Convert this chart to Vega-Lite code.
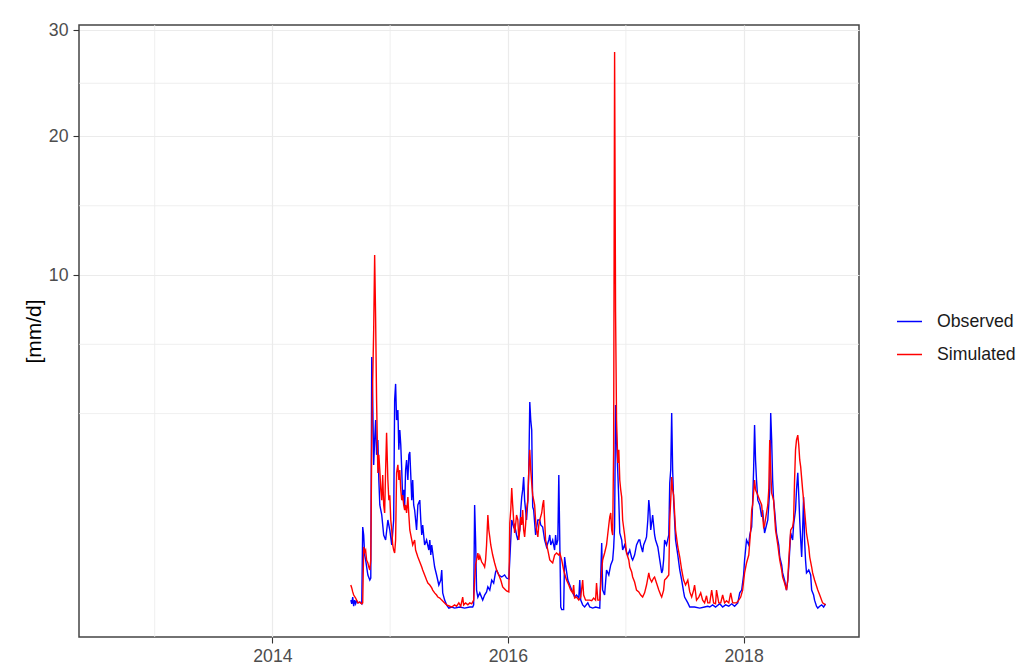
{
  "$schema": "https://vega.github.io/schema/vega-lite/v6.json",
  "autosize": {"type": "none"},
  "padding": {"left": 79, "top": 25, "right": 162, "bottom": 27},
  "width": 780,
  "height": 612,
  "background": "white",
  "config": {
    "font": "Liberation Sans",
    "view": {"stroke": "#444444", "strokeWidth": 1.5},
    "axis": {
      "domain": false,
      "grid": true,
      "gridColor": "#ebebeb",
      "gridWidth": 1.2,
      "tickColor": "#333333",
      "tickWidth": 1.1,
      "tickSize": 6,
      "labelColor": "#4d4d4d",
      "labelFont": "Liberation Sans",
      "labelFontSize": 17.7,
      "titleFont": "Liberation Sans",
      "titleFontWeight": "normal",
      "titleColor": "#000000"
    },
    "legend": {
      "orient": "none",
      "legendX": 817,
      "legendY": 283,
      "padding": 0,
      "labelFont": "Liberation Sans",
      "labelFontSize": 17.7,
      "labelColor": "#1a1a1a",
      "labelOffset": 14,
      "symbolType": "stroke",
      "symbolSize": 625,
      "symbolStrokeWidth": 1.5,
      "rowPadding": 10
    }
  },
  "datasets": {
    "minorx": [{"date": "2013-01-01"}, {"date": "2015-01-01"}, {"date": "2017-01-01"}],
    "minory": [{"value": 3.4318}, {"value": 6.287}, {"value": 14.571}, {"value": 24.747}],
    "flow": [
      {"date":"2014-09-01","series":"Observed","value":0.008},
      {"date":"2014-09-04","series":"Observed","value":0.003},
      {"date":"2014-09-07","series":"Observed","value":0.014},
      {"date":"2014-09-10","series":"Observed","value":0.001},
      {"date":"2014-09-13","series":"Observed","value":0.008},
      {"date":"2014-09-16","series":"Observed","value":0.003},
      {"date":"2014-09-19","series":"Observed","value":0.007},
      {"date":"2014-09-23","series":"Observed","value":0.004},
      {"date":"2014-09-29","series":"Observed","value":0.005},
      {"date":"2014-10-05","series":"Observed","value":0.003},
      {"date":"2014-10-08","series":"Observed","value":0.61},
      {"date":"2014-10-11","series":"Observed","value":0.497},
      {"date":"2014-10-14","series":"Observed","value":0.266},
      {"date":"2014-10-17","series":"Observed","value":0.22},
      {"date":"2014-10-24","series":"Observed","value":0.107},
      {"date":"2014-10-30","series":"Observed","value":0.078},
      {"date":"2014-11-02","series":"Observed","value":0.089},
      {"date":"2014-11-05","series":"Observed","value":5.7},
      {"date":"2014-11-08","series":"Observed","value":3.92},
      {"date":"2014-11-11","series":"Observed","value":1.87},
      {"date":"2014-11-14","series":"Observed","value":2.57},
      {"date":"2014-11-17","series":"Observed","value":3.21},
      {"date":"2014-11-20","series":"Observed","value":2.14},
      {"date":"2014-11-24","series":"Observed","value":2.57},
      {"date":"2014-11-27","series":"Observed","value":1.5},
      {"date":"2014-11-30","series":"Observed","value":0.978},
      {"date":"2014-12-06","series":"Observed","value":0.8},
      {"date":"2014-12-12","series":"Observed","value":0.497},
      {"date":"2014-12-18","series":"Observed","value":0.433},
      {"date":"2014-12-25","series":"Observed","value":0.717},
      {"date":"2014-12-31","series":"Observed","value":0.566},
      {"date":"2015-01-06","series":"Observed","value":0.373},
      {"date":"2015-01-12","series":"Observed","value":0.717},
      {"date":"2015-01-15","series":"Observed","value":3.92},
      {"date":"2015-01-18","series":"Observed","value":4.55},
      {"date":"2015-01-21","series":"Observed","value":3.21},
      {"date":"2015-01-25","series":"Observed","value":3.56},
      {"date":"2015-01-28","series":"Observed","value":2.28},
      {"date":"2015-01-31","series":"Observed","value":2.88},
      {"date":"2015-02-03","series":"Observed","value":2.42},
      {"date":"2015-02-06","series":"Observed","value":1.74},
      {"date":"2015-02-09","series":"Observed","value":1.07},
      {"date":"2015-02-12","series":"Observed","value":1.28},
      {"date":"2015-02-15","series":"Observed","value":0.941},
      {"date":"2015-02-18","series":"Observed","value":1.74},
      {"date":"2015-02-21","series":"Observed","value":2.0},
      {"date":"2015-02-25","series":"Observed","value":1.5},
      {"date":"2015-02-28","series":"Observed","value":2.14},
      {"date":"2015-03-03","series":"Observed","value":2.22},
      {"date":"2015-03-06","series":"Observed","value":1.62},
      {"date":"2015-03-09","series":"Observed","value":1.07},
      {"date":"2015-03-12","series":"Observed","value":1.5},
      {"date":"2015-03-15","series":"Observed","value":0.978},
      {"date":"2015-03-18","series":"Observed","value":0.886},
      {"date":"2015-03-24","series":"Observed","value":0.566},
      {"date":"2015-03-28","series":"Observed","value":0.978},
      {"date":"2015-04-03","series":"Observed","value":1.07},
      {"date":"2015-04-06","series":"Observed","value":0.717},
      {"date":"2015-04-09","series":"Observed","value":0.497},
      {"date":"2015-04-12","series":"Observed","value":0.639},
      {"date":"2015-04-18","series":"Observed","value":0.373},
      {"date":"2015-04-24","series":"Observed","value":0.433},
      {"date":"2015-05-01","series":"Observed","value":0.317},
      {"date":"2015-05-04","series":"Observed","value":0.433},
      {"date":"2015-05-07","series":"Observed","value":0.266},
      {"date":"2015-05-10","series":"Observed","value":0.373},
      {"date":"2015-05-16","series":"Observed","value":0.22},
      {"date":"2015-05-19","series":"Observed","value":0.162},
      {"date":"2015-05-25","series":"Observed","value":0.107},
      {"date":"2015-06-01","series":"Observed","value":0.054},
      {"date":"2015-06-07","series":"Observed","value":0.078},
      {"date":"2015-06-10","series":"Observed","value":0.14},
      {"date":"2015-06-13","series":"Observed","value":0.025},
      {"date":"2015-06-19","series":"Observed","value":0.008},
      {"date":"2015-06-25","series":"Observed","value":0.002},
      {"date":"2015-07-02","series":"Observed","value":0.0002},
      {"date":"2015-07-11","series":"Observed","value":0.0006},
      {"date":"2015-07-20","series":"Observed","value":0.0002},
      {"date":"2015-08-05","series":"Observed","value":0.0006},
      {"date":"2015-08-20","series":"Observed","value":0.0002},
      {"date":"2015-09-05","series":"Observed","value":0.0006},
      {"date":"2015-09-14","series":"Observed","value":0.0006},
      {"date":"2015-09-17","series":"Observed","value":0.002},
      {"date":"2015-09-20","series":"Observed","value":0.978},
      {"date":"2015-09-23","series":"Observed","value":0.433},
      {"date":"2015-09-26","series":"Observed","value":0.034},
      {"date":"2015-09-30","series":"Observed","value":0.014},
      {"date":"2015-10-06","series":"Observed","value":0.025},
      {"date":"2015-10-15","series":"Observed","value":0.008},
      {"date":"2015-10-21","series":"Observed","value":0.019},
      {"date":"2015-10-27","series":"Observed","value":0.028},
      {"date":"2015-10-31","series":"Observed","value":0.046},
      {"date":"2015-11-06","series":"Observed","value":0.034},
      {"date":"2015-11-12","series":"Observed","value":0.078},
      {"date":"2015-11-18","series":"Observed","value":0.063},
      {"date":"2015-11-24","series":"Observed","value":0.126},
      {"date":"2015-11-27","series":"Observed","value":0.14},
      {"date":"2015-12-04","series":"Observed","value":0.107},
      {"date":"2015-12-13","series":"Observed","value":0.095},
      {"date":"2015-12-22","series":"Observed","value":0.107},
      {"date":"2015-12-28","series":"Observed","value":0.089},
      {"date":"2016-01-04","series":"Observed","value":0.084},
      {"date":"2016-01-07","series":"Observed","value":0.22},
      {"date":"2016-01-10","series":"Observed","value":0.433},
      {"date":"2016-01-13","series":"Observed","value":0.717},
      {"date":"2016-01-19","series":"Observed","value":0.61},
      {"date":"2016-01-22","series":"Observed","value":0.639},
      {"date":"2016-01-28","series":"Observed","value":0.497},
      {"date":"2016-02-01","series":"Observed","value":0.433},
      {"date":"2016-02-07","series":"Observed","value":0.566},
      {"date":"2016-02-10","series":"Observed","value":0.886},
      {"date":"2016-02-13","series":"Observed","value":1.13},
      {"date":"2016-02-16","series":"Observed","value":1.28},
      {"date":"2016-02-19","series":"Observed","value":1.57},
      {"date":"2016-02-22","series":"Observed","value":1.07},
      {"date":"2016-02-25","series":"Observed","value":0.886},
      {"date":"2016-02-28","series":"Observed","value":0.717},
      {"date":"2016-03-03","series":"Observed","value":1.07},
      {"date":"2016-03-06","series":"Observed","value":1.74},
      {"date":"2016-03-09","series":"Observed","value":3.85},
      {"date":"2016-03-12","series":"Observed","value":3.21},
      {"date":"2016-03-15","series":"Observed","value":2.88},
      {"date":"2016-03-18","series":"Observed","value":0.941},
      {"date":"2016-03-21","series":"Observed","value":0.886},
      {"date":"2016-03-27","series":"Observed","value":0.497},
      {"date":"2016-04-03","series":"Observed","value":0.717},
      {"date":"2016-04-09","series":"Observed","value":0.717},
      {"date":"2016-04-12","series":"Observed","value":0.639},
      {"date":"2016-04-18","series":"Observed","value":0.61},
      {"date":"2016-04-24","series":"Observed","value":0.433},
      {"date":"2016-04-30","series":"Observed","value":0.35},
      {"date":"2016-05-07","series":"Observed","value":0.433},
      {"date":"2016-05-10","series":"Observed","value":0.497},
      {"date":"2016-05-13","series":"Observed","value":0.373},
      {"date":"2016-05-19","series":"Observed","value":0.433},
      {"date":"2016-05-25","series":"Observed","value":0.317},
      {"date":"2016-05-28","series":"Observed","value":0.497},
      {"date":"2016-05-31","series":"Observed","value":0.373},
      {"date":"2016-06-04","series":"Observed","value":0.433},
      {"date":"2016-06-07","series":"Observed","value":1.62},
      {"date":"2016-06-10","series":"Observed","value":0.433},
      {"date":"2016-06-13","series":"Observed","value":0.0006},
      {"date":"2016-06-16","series":"Observed","value":0},
      {"date":"2016-06-22","series":"Observed","value":0},
      {"date":"2016-06-25","series":"Observed","value":0.247},
      {"date":"2016-06-28","series":"Observed","value":0.178},
      {"date":"2016-07-05","series":"Observed","value":0.078},
      {"date":"2016-07-11","series":"Observed","value":0.054},
      {"date":"2016-07-17","series":"Observed","value":0.034},
      {"date":"2016-07-26","series":"Observed","value":0.014},
      {"date":"2016-08-01","series":"Observed","value":0.019},
      {"date":"2016-08-08","series":"Observed","value":0.012},
      {"date":"2016-08-11","series":"Observed","value":0.078},
      {"date":"2016-08-14","series":"Observed","value":0.008},
      {"date":"2016-08-20","series":"Observed","value":0.002},
      {"date":"2016-08-26","series":"Observed","value":0.0006},
      {"date":"2016-09-05","series":"Observed","value":0.004},
      {"date":"2016-09-11","series":"Observed","value":0.0006},
      {"date":"2016-09-20","series":"Observed","value":0.0002},
      {"date":"2016-09-29","series":"Observed","value":0.0006},
      {"date":"2016-10-12","series":"Observed","value":0.0002},
      {"date":"2016-10-18","series":"Observed","value":0.396},
      {"date":"2016-10-21","series":"Observed","value":0.034},
      {"date":"2016-10-27","series":"Observed","value":0.019},
      {"date":"2016-11-02","series":"Observed","value":0.14},
      {"date":"2016-11-09","series":"Observed","value":0.107},
      {"date":"2016-11-15","series":"Observed","value":0.178},
      {"date":"2016-11-21","series":"Observed","value":0.22},
      {"date":"2016-11-24","series":"Observed","value":0.339},
      {"date":"2016-11-27","series":"Observed","value":0.61},
      {"date":"2016-11-30","series":"Observed","value":3.74},
      {"date":"2016-12-03","series":"Observed","value":2.57},
      {"date":"2016-12-07","series":"Observed","value":1.67},
      {"date":"2016-12-10","series":"Observed","value":1.07},
      {"date":"2016-12-13","series":"Observed","value":0.524},
      {"date":"2016-12-19","series":"Observed","value":0.433},
      {"date":"2016-12-22","series":"Observed","value":0.317},
      {"date":"2016-12-28","series":"Observed","value":0.373},
      {"date":"2017-01-03","series":"Observed","value":0.296},
      {"date":"2017-01-07","series":"Observed","value":0.266},
      {"date":"2017-01-13","series":"Observed","value":0.317},
      {"date":"2017-01-19","series":"Observed","value":0.238},
      {"date":"2017-01-22","series":"Observed","value":0.22},
      {"date":"2017-01-28","series":"Observed","value":0.266},
      {"date":"2017-02-03","series":"Observed","value":0.373},
      {"date":"2017-02-10","series":"Observed","value":0.433},
      {"date":"2017-02-13","series":"Observed","value":0.433},
      {"date":"2017-02-16","series":"Observed","value":0.373},
      {"date":"2017-02-22","series":"Observed","value":0.296},
      {"date":"2017-02-25","series":"Observed","value":0.373},
      {"date":"2017-03-03","series":"Observed","value":0.433},
      {"date":"2017-03-06","series":"Observed","value":0.471},
      {"date":"2017-03-10","series":"Observed","value":0.717},
      {"date":"2017-03-13","series":"Observed","value":1.07},
      {"date":"2017-03-16","series":"Observed","value":0.886},
      {"date":"2017-03-19","series":"Observed","value":0.566},
      {"date":"2017-03-22","series":"Observed","value":0.67},
      {"date":"2017-03-25","series":"Observed","value":0.8},
      {"date":"2017-03-31","series":"Observed","value":0.497},
      {"date":"2017-04-03","series":"Observed","value":0.433},
      {"date":"2017-04-10","series":"Observed","value":0.35},
      {"date":"2017-04-16","series":"Observed","value":0.22},
      {"date":"2017-04-22","series":"Observed","value":0.12},
      {"date":"2017-04-25","series":"Observed","value":0.14},
      {"date":"2017-04-28","series":"Observed","value":0.22},
      {"date":"2017-05-01","series":"Observed","value":0.433},
      {"date":"2017-05-07","series":"Observed","value":0.373},
      {"date":"2017-05-14","series":"Observed","value":0.497},
      {"date":"2017-05-17","series":"Observed","value":1.43},
      {"date":"2017-05-20","series":"Observed","value":1.74},
      {"date":"2017-05-23","series":"Observed","value":3.45},
      {"date":"2017-05-26","series":"Observed","value":1.74},
      {"date":"2017-05-29","series":"Observed","value":1.07},
      {"date":"2017-06-04","series":"Observed","value":0.433},
      {"date":"2017-06-11","series":"Observed","value":0.266},
      {"date":"2017-06-17","series":"Observed","value":0.14},
      {"date":"2017-06-23","series":"Observed","value":0.078},
      {"date":"2017-06-29","series":"Observed","value":0.028},
      {"date":"2017-07-02","series":"Observed","value":0.014},
      {"date":"2017-07-12","series":"Observed","value":0.004},
      {"date":"2017-07-18","series":"Observed","value":0.0006},
      {"date":"2017-08-02","series":"Observed","value":0.0006},
      {"date":"2017-08-18","series":"Observed","value":0.0002},
      {"date":"2017-09-02","series":"Observed","value":0.0006},
      {"date":"2017-09-12","series":"Observed","value":0.001},
      {"date":"2017-09-18","series":"Observed","value":0.0006},
      {"date":"2017-09-27","series":"Observed","value":0.002},
      {"date":"2017-10-06","series":"Observed","value":0.0006},
      {"date":"2017-10-19","series":"Observed","value":0.003},
      {"date":"2017-10-28","series":"Observed","value":0.0006},
      {"date":"2017-11-06","series":"Observed","value":0.002},
      {"date":"2017-11-16","series":"Observed","value":0.001},
      {"date":"2017-11-25","series":"Observed","value":0.003},
      {"date":"2017-12-04","series":"Observed","value":0.001},
      {"date":"2017-12-14","series":"Observed","value":0.004},
      {"date":"2017-12-20","series":"Observed","value":0.025},
      {"date":"2017-12-26","series":"Observed","value":0.034},
      {"date":"2018-01-01","series":"Observed","value":0.107},
      {"date":"2018-01-04","series":"Observed","value":0.22},
      {"date":"2018-01-07","series":"Observed","value":0.317},
      {"date":"2018-01-10","series":"Observed","value":0.433},
      {"date":"2018-01-17","series":"Observed","value":0.373},
      {"date":"2018-01-20","series":"Observed","value":0.497},
      {"date":"2018-01-26","series":"Observed","value":0.61},
      {"date":"2018-01-29","series":"Observed","value":1.02},
      {"date":"2018-02-01","series":"Observed","value":1.74},
      {"date":"2018-02-04","series":"Observed","value":3.04},
      {"date":"2018-02-07","series":"Observed","value":2.0},
      {"date":"2018-02-10","series":"Observed","value":1.5},
      {"date":"2018-02-14","series":"Observed","value":1.07},
      {"date":"2018-02-20","series":"Observed","value":0.978},
      {"date":"2018-02-26","series":"Observed","value":0.766},
      {"date":"2018-03-01","series":"Observed","value":0.886},
      {"date":"2018-03-07","series":"Observed","value":0.524},
      {"date":"2018-03-13","series":"Observed","value":0.639},
      {"date":"2018-03-17","series":"Observed","value":0.717},
      {"date":"2018-03-23","series":"Observed","value":1.28},
      {"date":"2018-03-26","series":"Observed","value":3.45},
      {"date":"2018-03-29","series":"Observed","value":2.57},
      {"date":"2018-04-01","series":"Observed","value":1.5},
      {"date":"2018-04-04","series":"Observed","value":1.07},
      {"date":"2018-04-07","series":"Observed","value":0.886},
      {"date":"2018-04-13","series":"Observed","value":0.524},
      {"date":"2018-04-20","series":"Observed","value":0.373},
      {"date":"2018-04-23","series":"Observed","value":0.247},
      {"date":"2018-04-29","series":"Observed","value":0.178},
      {"date":"2018-05-02","series":"Observed","value":0.12},
      {"date":"2018-05-08","series":"Observed","value":0.078},
      {"date":"2018-05-14","series":"Observed","value":0.034},
      {"date":"2018-05-18","series":"Observed","value":0.078},
      {"date":"2018-05-21","series":"Observed","value":0.162},
      {"date":"2018-05-24","series":"Observed","value":0.317},
      {"date":"2018-05-27","series":"Observed","value":0.524},
      {"date":"2018-06-02","series":"Observed","value":0.433},
      {"date":"2018-06-05","series":"Observed","value":0.639},
      {"date":"2018-06-11","series":"Observed","value":0.886},
      {"date":"2018-06-14","series":"Observed","value":1.28},
      {"date":"2018-06-18","series":"Observed","value":1.67},
      {"date":"2018-06-21","series":"Observed","value":1.17},
      {"date":"2018-06-24","series":"Observed","value":0.717},
      {"date":"2018-06-27","series":"Observed","value":0.433},
      {"date":"2018-06-30","series":"Observed","value":0.247},
      {"date":"2018-07-03","series":"Observed","value":0.566},
      {"date":"2018-07-06","series":"Observed","value":1.13},
      {"date":"2018-07-09","series":"Observed","value":0.433},
      {"date":"2018-07-12","series":"Observed","value":0.22},
      {"date":"2018-07-15","series":"Observed","value":0.12},
      {"date":"2018-07-22","series":"Observed","value":0.14},
      {"date":"2018-07-28","series":"Observed","value":0.107},
      {"date":"2018-07-31","series":"Observed","value":0.034},
      {"date":"2018-08-06","series":"Observed","value":0.019},
      {"date":"2018-08-09","series":"Observed","value":0.008},
      {"date":"2018-08-15","series":"Observed","value":0.001},
      {"date":"2018-08-19","series":"Observed","value":0.0002},
      {"date":"2018-08-25","series":"Observed","value":0.001},
      {"date":"2018-08-31","series":"Observed","value":0.002},
      {"date":"2018-09-06","series":"Observed","value":0.0006},
      {"date":"2018-09-12","series":"Observed","value":0.003},
      {"date":"2014-09-01","series":"Simulated","value":0.054},
      {"date":"2014-09-04","series":"Simulated","value":0.042},
      {"date":"2014-09-07","series":"Simulated","value":0.028},
      {"date":"2014-09-10","series":"Simulated","value":0.019},
      {"date":"2014-09-16","series":"Simulated","value":0.012},
      {"date":"2014-09-23","series":"Simulated","value":0.004},
      {"date":"2014-09-29","series":"Simulated","value":0.005},
      {"date":"2014-10-05","series":"Simulated","value":0.003},
      {"date":"2014-10-08","series":"Simulated","value":0.004},
      {"date":"2014-10-11","series":"Simulated","value":0.35},
      {"date":"2014-10-14","series":"Simulated","value":0.296},
      {"date":"2014-10-17","series":"Simulated","value":0.317},
      {"date":"2014-10-20","series":"Simulated","value":0.22},
      {"date":"2014-10-24","series":"Simulated","value":0.194},
      {"date":"2014-10-27","series":"Simulated","value":0.162},
      {"date":"2014-10-30","series":"Simulated","value":0.14},
      {"date":"2014-11-02","series":"Simulated","value":0.22},
      {"date":"2014-11-05","series":"Simulated","value":2.57},
      {"date":"2014-11-08","series":"Simulated","value":4.71},
      {"date":"2014-11-11","series":"Simulated","value":6.98},
      {"date":"2014-11-14","series":"Simulated","value":11.23},
      {"date":"2014-11-17","series":"Simulated","value":7.6},
      {"date":"2014-11-20","series":"Simulated","value":3.92},
      {"date":"2014-11-24","series":"Simulated","value":1.67},
      {"date":"2014-11-27","series":"Simulated","value":2.14},
      {"date":"2014-11-30","series":"Simulated","value":1.74},
      {"date":"2014-12-03","series":"Simulated","value":1.28},
      {"date":"2014-12-06","series":"Simulated","value":1.07},
      {"date":"2014-12-09","series":"Simulated","value":1.62},
      {"date":"2014-12-12","series":"Simulated","value":0.978},
      {"date":"2014-12-15","series":"Simulated","value":0.834},
      {"date":"2014-12-18","series":"Simulated","value":1.74},
      {"date":"2014-12-21","series":"Simulated","value":2.79},
      {"date":"2014-12-25","series":"Simulated","value":1.5},
      {"date":"2014-12-28","series":"Simulated","value":1.07},
      {"date":"2014-12-31","series":"Simulated","value":1.17},
      {"date":"2015-01-03","series":"Simulated","value":0.717},
      {"date":"2015-01-06","series":"Simulated","value":0.566},
      {"date":"2015-01-09","series":"Simulated","value":0.373},
      {"date":"2015-01-12","series":"Simulated","value":0.317},
      {"date":"2015-01-15","series":"Simulated","value":0.286},
      {"date":"2015-01-18","series":"Simulated","value":0.433},
      {"date":"2015-01-21","series":"Simulated","value":1.67},
      {"date":"2015-01-25","series":"Simulated","value":1.87},
      {"date":"2015-01-28","series":"Simulated","value":1.5},
      {"date":"2015-01-31","series":"Simulated","value":1.74},
      {"date":"2015-02-03","series":"Simulated","value":1.28},
      {"date":"2015-02-06","series":"Simulated","value":1.07},
      {"date":"2015-02-09","series":"Simulated","value":1.17},
      {"date":"2015-02-12","series":"Simulated","value":0.978},
      {"date":"2015-02-15","series":"Simulated","value":0.886},
      {"date":"2015-02-18","series":"Simulated","value":0.978},
      {"date":"2015-02-21","series":"Simulated","value":0.834},
      {"date":"2015-02-25","series":"Simulated","value":1.13},
      {"date":"2015-02-28","series":"Simulated","value":0.8},
      {"date":"2015-03-03","series":"Simulated","value":0.566},
      {"date":"2015-03-09","series":"Simulated","value":0.433},
      {"date":"2015-03-12","series":"Simulated","value":0.373},
      {"date":"2015-03-18","series":"Simulated","value":0.433},
      {"date":"2015-03-21","series":"Simulated","value":0.317},
      {"date":"2015-03-28","series":"Simulated","value":0.247},
      {"date":"2015-04-03","series":"Simulated","value":0.202},
      {"date":"2015-04-09","series":"Simulated","value":0.162},
      {"date":"2015-04-12","series":"Simulated","value":0.14},
      {"date":"2015-04-18","series":"Simulated","value":0.107},
      {"date":"2015-04-24","series":"Simulated","value":0.078},
      {"date":"2015-04-28","series":"Simulated","value":0.063},
      {"date":"2015-05-04","series":"Simulated","value":0.054},
      {"date":"2015-05-10","series":"Simulated","value":0.042},
      {"date":"2015-05-13","series":"Simulated","value":0.034},
      {"date":"2015-05-19","series":"Simulated","value":0.025},
      {"date":"2015-05-25","series":"Simulated","value":0.019},
      {"date":"2015-05-29","series":"Simulated","value":0.014},
      {"date":"2015-06-04","series":"Simulated","value":0.012},
      {"date":"2015-06-10","series":"Simulated","value":0.008},
      {"date":"2015-06-19","series":"Simulated","value":0.004},
      {"date":"2015-06-25","series":"Simulated","value":0.002},
      {"date":"2015-07-05","series":"Simulated","value":0.001},
      {"date":"2015-07-11","series":"Simulated","value":0.0006},
      {"date":"2015-07-20","series":"Simulated","value":0.002},
      {"date":"2015-07-26","series":"Simulated","value":0.001},
      {"date":"2015-08-02","series":"Simulated","value":0.004},
      {"date":"2015-08-08","series":"Simulated","value":0.001},
      {"date":"2015-08-14","series":"Simulated","value":0.014},
      {"date":"2015-08-17","series":"Simulated","value":0.002},
      {"date":"2015-08-23","series":"Simulated","value":0.004},
      {"date":"2015-08-30","series":"Simulated","value":0.002},
      {"date":"2015-09-05","series":"Simulated","value":0.004},
      {"date":"2015-09-11","series":"Simulated","value":0.003},
      {"date":"2015-09-17","series":"Simulated","value":0.008},
      {"date":"2015-09-20","series":"Simulated","value":0.078},
      {"date":"2015-09-23","series":"Simulated","value":0.178},
      {"date":"2015-09-26","series":"Simulated","value":0.22},
      {"date":"2015-09-30","series":"Simulated","value":0.286},
      {"date":"2015-10-03","series":"Simulated","value":0.22},
      {"date":"2015-10-06","series":"Simulated","value":0.257},
      {"date":"2015-10-12","series":"Simulated","value":0.202},
      {"date":"2015-10-18","series":"Simulated","value":0.178},
      {"date":"2015-10-21","series":"Simulated","value":0.162},
      {"date":"2015-10-24","series":"Simulated","value":0.22},
      {"date":"2015-10-27","series":"Simulated","value":0.373},
      {"date":"2015-10-31","series":"Simulated","value":0.8},
      {"date":"2015-11-03","series":"Simulated","value":0.566},
      {"date":"2015-11-06","series":"Simulated","value":0.471},
      {"date":"2015-11-09","series":"Simulated","value":0.373},
      {"date":"2015-11-15","series":"Simulated","value":0.266},
      {"date":"2015-11-21","series":"Simulated","value":0.194},
      {"date":"2015-11-27","series":"Simulated","value":0.14},
      {"date":"2015-12-04","series":"Simulated","value":0.107},
      {"date":"2015-12-10","series":"Simulated","value":0.078},
      {"date":"2015-12-16","series":"Simulated","value":0.046},
      {"date":"2015-12-22","series":"Simulated","value":0.038},
      {"date":"2015-12-28","series":"Simulated","value":0.031},
      {"date":"2016-01-04","series":"Simulated","value":0.028},
      {"date":"2016-01-07","series":"Simulated","value":0.67},
      {"date":"2016-01-10","series":"Simulated","value":0.886},
      {"date":"2016-01-13","series":"Simulated","value":1.32},
      {"date":"2016-01-16","series":"Simulated","value":0.978},
      {"date":"2016-01-19","series":"Simulated","value":0.717},
      {"date":"2016-01-22","series":"Simulated","value":0.524},
      {"date":"2016-01-25","series":"Simulated","value":0.639},
      {"date":"2016-01-28","series":"Simulated","value":0.8},
      {"date":"2016-02-01","series":"Simulated","value":0.717},
      {"date":"2016-02-04","series":"Simulated","value":0.433},
      {"date":"2016-02-07","series":"Simulated","value":0.566},
      {"date":"2016-02-10","series":"Simulated","value":0.766},
      {"date":"2016-02-13","series":"Simulated","value":0.639},
      {"date":"2016-02-16","series":"Simulated","value":0.886},
      {"date":"2016-02-19","series":"Simulated","value":0.566},
      {"date":"2016-02-22","series":"Simulated","value":0.471},
      {"date":"2016-02-25","series":"Simulated","value":0.639},
      {"date":"2016-02-28","series":"Simulated","value":0.886},
      {"date":"2016-03-03","series":"Simulated","value":1.07},
      {"date":"2016-03-06","series":"Simulated","value":1.74},
      {"date":"2016-03-09","series":"Simulated","value":2.28},
      {"date":"2016-03-12","series":"Simulated","value":1.74},
      {"date":"2016-03-15","series":"Simulated","value":1.43},
      {"date":"2016-03-18","series":"Simulated","value":1.17},
      {"date":"2016-03-24","series":"Simulated","value":0.978},
      {"date":"2016-03-27","series":"Simulated","value":0.717},
      {"date":"2016-03-30","series":"Simulated","value":0.566},
      {"date":"2016-04-03","series":"Simulated","value":0.471},
      {"date":"2016-04-06","series":"Simulated","value":0.639},
      {"date":"2016-04-09","series":"Simulated","value":0.717},
      {"date":"2016-04-15","series":"Simulated","value":0.834},
      {"date":"2016-04-18","series":"Simulated","value":0.978},
      {"date":"2016-04-21","series":"Simulated","value":1.07},
      {"date":"2016-04-24","series":"Simulated","value":0.717},
      {"date":"2016-04-27","series":"Simulated","value":0.433},
      {"date":"2016-05-04","series":"Simulated","value":0.317},
      {"date":"2016-05-10","series":"Simulated","value":0.22},
      {"date":"2016-05-16","series":"Simulated","value":0.202},
      {"date":"2016-05-19","series":"Simulated","value":0.194},
      {"date":"2016-05-25","series":"Simulated","value":0.266},
      {"date":"2016-05-31","series":"Simulated","value":0.286},
      {"date":"2016-06-07","series":"Simulated","value":0.266},
      {"date":"2016-06-10","series":"Simulated","value":0.286},
      {"date":"2016-06-16","series":"Simulated","value":0.22},
      {"date":"2016-06-22","series":"Simulated","value":0.14},
      {"date":"2016-06-28","series":"Simulated","value":0.095},
      {"date":"2016-07-01","series":"Simulated","value":0.078},
      {"date":"2016-07-08","series":"Simulated","value":0.054},
      {"date":"2016-07-14","series":"Simulated","value":0.034},
      {"date":"2016-07-20","series":"Simulated","value":0.025},
      {"date":"2016-07-23","series":"Simulated","value":0.054},
      {"date":"2016-07-26","series":"Simulated","value":0.012},
      {"date":"2016-08-01","series":"Simulated","value":0.014},
      {"date":"2016-08-08","series":"Simulated","value":0.008},
      {"date":"2016-08-14","series":"Simulated","value":0.014},
      {"date":"2016-08-20","series":"Simulated","value":0.078},
      {"date":"2016-08-23","series":"Simulated","value":0.019},
      {"date":"2016-08-29","series":"Simulated","value":0.008},
      {"date":"2016-09-05","series":"Simulated","value":0.008},
      {"date":"2016-09-11","series":"Simulated","value":0.008},
      {"date":"2016-09-17","series":"Simulated","value":0.007},
      {"date":"2016-09-23","series":"Simulated","value":0.012},
      {"date":"2016-09-29","series":"Simulated","value":0.008},
      {"date":"2016-10-02","series":"Simulated","value":0.063},
      {"date":"2016-10-06","series":"Simulated","value":0.008},
      {"date":"2016-10-12","series":"Simulated","value":0.008},
      {"date":"2016-10-18","series":"Simulated","value":0.14},
      {"date":"2016-10-21","series":"Simulated","value":0.22},
      {"date":"2016-10-27","series":"Simulated","value":0.286},
      {"date":"2016-11-02","series":"Simulated","value":0.373},
      {"date":"2016-11-09","series":"Simulated","value":0.639},
      {"date":"2016-11-12","series":"Simulated","value":0.766},
      {"date":"2016-11-15","series":"Simulated","value":0.834},
      {"date":"2016-11-18","series":"Simulated","value":0.566},
      {"date":"2016-11-21","series":"Simulated","value":0.497},
      {"date":"2016-11-24","series":"Simulated","value":2.28},
      {"date":"2016-11-27","series":"Simulated","value":27.78},
      {"date":"2016-11-30","series":"Simulated","value":7.91},
      {"date":"2016-12-03","series":"Simulated","value":3.21},
      {"date":"2016-12-07","series":"Simulated","value":1.92},
      {"date":"2016-12-10","series":"Simulated","value":2.28},
      {"date":"2016-12-13","series":"Simulated","value":1.5},
      {"date":"2016-12-16","series":"Simulated","value":1.28},
      {"date":"2016-12-19","series":"Simulated","value":1.13},
      {"date":"2016-12-22","series":"Simulated","value":0.717},
      {"date":"2016-12-28","series":"Simulated","value":0.497},
      {"date":"2017-01-03","series":"Simulated","value":0.286},
      {"date":"2017-01-10","series":"Simulated","value":0.22},
      {"date":"2017-01-13","series":"Simulated","value":0.162},
      {"date":"2017-01-19","series":"Simulated","value":0.126},
      {"date":"2017-01-22","series":"Simulated","value":0.095},
      {"date":"2017-01-28","series":"Simulated","value":0.068},
      {"date":"2017-02-03","series":"Simulated","value":0.034},
      {"date":"2017-02-10","series":"Simulated","value":0.028},
      {"date":"2017-02-16","series":"Simulated","value":0.019},
      {"date":"2017-02-22","series":"Simulated","value":0.014},
      {"date":"2017-02-28","series":"Simulated","value":0.025},
      {"date":"2017-03-06","series":"Simulated","value":0.054},
      {"date":"2017-03-13","series":"Simulated","value":0.12},
      {"date":"2017-03-16","series":"Simulated","value":0.089},
      {"date":"2017-03-22","series":"Simulated","value":0.068},
      {"date":"2017-03-28","series":"Simulated","value":0.089},
      {"date":"2017-03-31","series":"Simulated","value":0.095},
      {"date":"2017-04-06","series":"Simulated","value":0.063},
      {"date":"2017-04-13","series":"Simulated","value":0.034},
      {"date":"2017-04-19","series":"Simulated","value":0.019},
      {"date":"2017-04-22","series":"Simulated","value":0.014},
      {"date":"2017-04-28","series":"Simulated","value":0.034},
      {"date":"2017-05-01","series":"Simulated","value":0.078},
      {"date":"2017-05-07","series":"Simulated","value":0.089},
      {"date":"2017-05-14","series":"Simulated","value":0.107},
      {"date":"2017-05-17","series":"Simulated","value":0.717},
      {"date":"2017-05-20","series":"Simulated","value":1.07},
      {"date":"2017-05-23","series":"Simulated","value":1.57},
      {"date":"2017-05-26","series":"Simulated","value":1.28},
      {"date":"2017-05-29","series":"Simulated","value":1.17},
      {"date":"2017-06-04","series":"Simulated","value":0.566},
      {"date":"2017-06-11","series":"Simulated","value":0.35},
      {"date":"2017-06-17","series":"Simulated","value":0.247},
      {"date":"2017-06-23","series":"Simulated","value":0.14},
      {"date":"2017-06-29","series":"Simulated","value":0.078},
      {"date":"2017-07-05","series":"Simulated","value":0.054},
      {"date":"2017-07-12","series":"Simulated","value":0.078},
      {"date":"2017-07-18","series":"Simulated","value":0.028},
      {"date":"2017-07-24","series":"Simulated","value":0.014},
      {"date":"2017-07-30","series":"Simulated","value":0.034},
      {"date":"2017-08-02","series":"Simulated","value":0.054},
      {"date":"2017-08-08","series":"Simulated","value":0.008},
      {"date":"2017-08-15","series":"Simulated","value":0.014},
      {"date":"2017-08-21","series":"Simulated","value":0.025},
      {"date":"2017-08-27","series":"Simulated","value":0.008},
      {"date":"2017-09-02","series":"Simulated","value":0.004},
      {"date":"2017-09-08","series":"Simulated","value":0.017},
      {"date":"2017-09-12","series":"Simulated","value":0.004},
      {"date":"2017-09-18","series":"Simulated","value":0.004},
      {"date":"2017-09-24","series":"Simulated","value":0.034},
      {"date":"2017-09-30","series":"Simulated","value":0.004},
      {"date":"2017-10-06","series":"Simulated","value":0.003},
      {"date":"2017-10-09","series":"Simulated","value":0.034},
      {"date":"2017-10-16","series":"Simulated","value":0.004},
      {"date":"2017-10-22","series":"Simulated","value":0.004},
      {"date":"2017-10-28","series":"Simulated","value":0.019},
      {"date":"2017-11-03","series":"Simulated","value":0.004},
      {"date":"2017-11-09","series":"Simulated","value":0.007},
      {"date":"2017-11-16","series":"Simulated","value":0.004},
      {"date":"2017-11-22","series":"Simulated","value":0.025},
      {"date":"2017-11-28","series":"Simulated","value":0.004},
      {"date":"2017-12-04","series":"Simulated","value":0.004},
      {"date":"2017-12-10","series":"Simulated","value":0.004},
      {"date":"2017-12-17","series":"Simulated","value":0.008},
      {"date":"2017-12-23","series":"Simulated","value":0.014},
      {"date":"2017-12-29","series":"Simulated","value":0.034},
      {"date":"2018-01-04","series":"Simulated","value":0.12},
      {"date":"2018-01-10","series":"Simulated","value":0.194},
      {"date":"2018-01-17","series":"Simulated","value":0.266},
      {"date":"2018-01-23","series":"Simulated","value":0.566},
      {"date":"2018-01-26","series":"Simulated","value":0.886},
      {"date":"2018-01-29","series":"Simulated","value":0.978},
      {"date":"2018-02-04","series":"Simulated","value":1.5},
      {"date":"2018-02-07","series":"Simulated","value":1.28},
      {"date":"2018-02-14","series":"Simulated","value":1.17},
      {"date":"2018-02-20","series":"Simulated","value":1.07},
      {"date":"2018-02-26","series":"Simulated","value":0.978},
      {"date":"2018-03-04","series":"Simulated","value":0.61},
      {"date":"2018-03-07","series":"Simulated","value":0.639},
      {"date":"2018-03-13","series":"Simulated","value":0.834},
      {"date":"2018-03-17","series":"Simulated","value":0.978},
      {"date":"2018-03-20","series":"Simulated","value":1.28},
      {"date":"2018-03-23","series":"Simulated","value":2.57},
      {"date":"2018-03-26","series":"Simulated","value":1.74},
      {"date":"2018-03-29","series":"Simulated","value":1.21},
      {"date":"2018-04-04","series":"Simulated","value":1.07},
      {"date":"2018-04-10","series":"Simulated","value":0.566},
      {"date":"2018-04-17","series":"Simulated","value":0.373},
      {"date":"2018-04-23","series":"Simulated","value":0.22},
      {"date":"2018-04-29","series":"Simulated","value":0.14},
      {"date":"2018-05-02","series":"Simulated","value":0.095},
      {"date":"2018-05-08","series":"Simulated","value":0.063},
      {"date":"2018-05-14","series":"Simulated","value":0.034},
      {"date":"2018-05-18","series":"Simulated","value":0.078},
      {"date":"2018-05-21","series":"Simulated","value":0.22},
      {"date":"2018-05-24","series":"Simulated","value":0.373},
      {"date":"2018-05-27","series":"Simulated","value":0.566},
      {"date":"2018-06-02","series":"Simulated","value":0.61},
      {"date":"2018-06-05","series":"Simulated","value":0.717},
      {"date":"2018-06-08","series":"Simulated","value":1.5},
      {"date":"2018-06-11","series":"Simulated","value":2.28},
      {"date":"2018-06-14","series":"Simulated","value":2.57},
      {"date":"2018-06-18","series":"Simulated","value":2.72},
      {"date":"2018-06-21","series":"Simulated","value":2.42},
      {"date":"2018-06-24","series":"Simulated","value":2.0},
      {"date":"2018-06-27","series":"Simulated","value":1.82},
      {"date":"2018-07-03","series":"Simulated","value":1.28},
      {"date":"2018-07-09","series":"Simulated","value":0.886},
      {"date":"2018-07-15","series":"Simulated","value":0.524},
      {"date":"2018-07-22","series":"Simulated","value":0.35},
      {"date":"2018-07-25","series":"Simulated","value":0.247},
      {"date":"2018-07-31","series":"Simulated","value":0.162},
      {"date":"2018-08-03","series":"Simulated","value":0.12},
      {"date":"2018-08-09","series":"Simulated","value":0.078},
      {"date":"2018-08-19","series":"Simulated","value":0.034},
      {"date":"2018-08-25","series":"Simulated","value":0.019},
      {"date":"2018-09-03","series":"Simulated","value":0.004},
      {"date":"2018-09-12","series":"Simulated","value":0.002}
    ]
  },
  "layer": [
    {
      "data": {"name": "minorx"},
      "mark": {"type": "rule", "color": "#ebebeb", "strokeWidth": 0.8},
      "encoding": {
        "x": {
          "field": "date",
          "type": "temporal",
          "title": null,
          "scale": {
            "type": "utc",
            "domain": [
              {"year": 2012, "month": 5, "date": 11, "hours": 7, "utc": true},
              {"year": 2018, "month": 12, "date": 24, "hours": 19, "utc": true}
            ]
          },
          "axis": {
            "values": [
              {"year": 2014, "month": 1, "date": 1, "utc": true},
              {"year": 2016, "month": 1, "date": 1, "utc": true},
              {"year": 2018, "month": 1, "date": 1, "utc": true}
            ],
            "format": "%Y",
            "labelPadding": 4,
            "labelFlush": false,
            "labelOverlap": false
          }
        }
      }
    },
    {
      "data": {"name": "minory"},
      "mark": {"type": "rule", "color": "#ebebeb", "strokeWidth": 0.8},
      "encoding": {
        "y": {
          "field": "value",
          "type": "quantitative",
          "title": "[mm/d]",
          "scale": {"type": "sqrt", "domain": [-0.0671, 30.531], "zero": false, "nice": false},
          "axis": {
            "values": [10, 20, 30],
            "labelPadding": 5,
            "titleFontSize": 21,
            "titlePadding": 4,
            "labelFlush": false,
            "labelOverlap": false
          }
        }
      }
    },
    {
      "data": {"name": "flow"},
      "mark": {"type": "line", "strokeWidth": 1.4, "interpolate": "linear"},
      "encoding": {
        "x": {
          "field": "date",
          "type": "temporal",
          "title": null,
          "scale": {
            "type": "utc",
            "domain": [
              {"year": 2012, "month": 5, "date": 11, "hours": 7, "utc": true},
              {"year": 2018, "month": 12, "date": 24, "hours": 19, "utc": true}
            ]
          },
          "axis": {
            "values": [
              {"year": 2014, "month": 1, "date": 1, "utc": true},
              {"year": 2016, "month": 1, "date": 1, "utc": true},
              {"year": 2018, "month": 1, "date": 1, "utc": true}
            ],
            "format": "%Y",
            "labelPadding": 4,
            "labelFlush": false,
            "labelOverlap": false
          }
        },
        "y": {
          "field": "value",
          "type": "quantitative",
          "title": "[mm/d]",
          "scale": {"type": "sqrt", "domain": [-0.0671, 30.531], "zero": false, "nice": false},
          "axis": {
            "values": [10, 20, 30],
            "labelPadding": 5,
            "titleFontSize": 21,
            "titlePadding": 4,
            "labelFlush": false,
            "labelOverlap": false
          }
        },
        "color": {
          "field": "series",
          "type": "nominal",
          "scale": {"domain": ["Observed", "Simulated"], "range": ["#0000ff", "#ff0000"]},
          "legend": {"title": null}
        }
      }
    }
  ]
}
